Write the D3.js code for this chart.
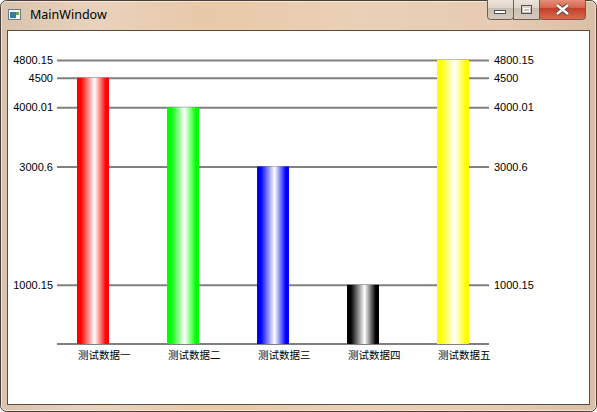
<!DOCTYPE html>
<html><head><meta charset="utf-8">
<script src="https://cdn.jsdelivr.net/npm/d3@7"></script>
<style>html,body{margin:0;padding:0;background:#fff;overflow:hidden}svg{display:block}</style>
</head><body>
<svg id="c" width="597" height="412"></svg>
<script>
const categories = ['测试数据一','测试数据二','测试数据三','测试数据四','测试数据五'];
const values = [4500, 4000.01, 3000.6, 1000.15, 4800.15];
const barColors = ['#ff0000','#00ff00','#0000ff','#000000','#ffff00'];
const tickValues = [4800.15, 4500, 4000.01, 3000.6, 1000.15];
const tickLabels = ['4800.15','4500','4000.01','3000.6','1000.15'];

const svg = d3.select('#c');
const W = 597, H = 412;
const defs = svg.append('defs');

// ---- window chrome ----
const fg = defs.append('linearGradient').attr('id','frame').attr('x1',0).attr('y1',0).attr('x2',1).attr('y2',0);
[['0%','#d9c3ae'],['15%','#e9d2bd'],['35%','#e8c9a8'],['60%','#ead0b6'],['85%','#e6cbb2'],['100%','#d8bfa6']]
  .forEach(([o,c])=>fg.append('stop').attr('offset',o).attr('stop-color',c));
svg.append('rect').attr('x',0.5).attr('y',0.5).attr('width',W-1).attr('height',H-1).attr('rx',6)
  .attr('fill','url(#frame)').attr('stroke','#4a4038').attr('stroke-width',1);
svg.append('rect').attr('x',1.5).attr('y',1.5).attr('width',W-3).attr('height',H-3).attr('rx',5)
  .attr('fill','none').attr('stroke','rgba(255,255,255,0.55)').attr('stroke-width',1);
// client area
svg.append('rect').attr('x',7.5).attr('y',30.5).attr('width',582).attr('height',374)
  .attr('fill','#ffffff').attr('stroke','#5b4c40').attr('stroke-width',1);

// title icon
const ic = svg.append('g');
ic.append('rect').attr('x',8.5).attr('y',9.5).attr('width',12).attr('height',10).attr('fill','#f4f4f4').attr('stroke','#6d7a86');
ic.append('rect').attr('x',10).attr('y',12).attr('width',6).attr('height',6).attr('fill','#3b7a9a');
ic.append('rect').attr('x',16).attr('y',12).attr('width',3).attr('height',3).attr('fill','#6aa84f');
svg.append('text').attr('x',30).attr('y',19).attr('font-family','"Noto Sans","DejaVu Sans",sans-serif')
  .attr('font-size',12.5).attr('fill','#000').text('MainWindow');

// caption buttons
const bg = defs.append('linearGradient').attr('id','btn').attr('x1',0).attr('y1',0).attr('x2',0).attr('y2',1);
[['0%','#f2ebe4'],['50%','#ddd2c7'],['51%','#cbbfb3'],['100%','#d6cabe']].forEach(([o,c])=>bg.append('stop').attr('offset',o).attr('stop-color',c));
const cg = defs.append('linearGradient').attr('id','cls').attr('x1',0).attr('y1',0).attr('x2',0).attr('y2',1);
[['0%','#e9a08c'],['50%','#d4624a'],['51%','#c3402a'],['100%','#d86d4e']].forEach(([o,c])=>cg.append('stop').attr('offset',o).attr('stop-color',c));
svg.append('rect').attr('x',487.5).attr('y',-3).attr('width',26).attr('height',22.5).attr('rx',3).attr('fill','url(#btn)').attr('stroke','#6b5e53');
svg.append('rect').attr('x',513.5).attr('y',-3).attr('width',26).attr('height',22.5).attr('rx',0).attr('fill','url(#btn)').attr('stroke','#6b5e53');
svg.append('rect').attr('x',539.5).attr('y',-3).attr('width',46).attr('height',22.5).attr('rx',3).attr('fill','url(#cls)').attr('stroke','#6b5e53');
svg.append('rect').attr('x',494.5).attr('y',10.5).attr('width',11).attr('height',3).attr('fill','#fff').attr('stroke','#4a5260');
svg.append('rect').attr('x',521.5).attr('y',5.5).attr('width',10).attr('height',8).attr('fill','none').attr('stroke','#4a5260');
svg.append('rect').attr('x',523.5).attr('y',8.5).attr('width',6).attr('height',3).attr('fill','none').attr('stroke','#fff');
svg.append('path').attr('d','M557,5 L568,14 M568,5 L557,14').attr('stroke','#5a4a44').attr('stroke-width',4.2);
svg.append('path').attr('d','M557,5 L568,14 M568,5 L557,14').attr('stroke','#ffffff').attr('stroke-width',2.4);

// ---- chart ----
const x0 = 57, x1 = 489, yTop = 60, yBase = 344;
const y = d3.scaleLinear().domain([0, d3.max(tickValues)]).range([yBase, yTop]);
const x = d3.scalePoint().domain(categories).range([x0 + 36, x1 - 36]);
const bw = 32;

// gradients
barColors.forEach((c,i)=>{
  const g = defs.append('linearGradient').attr('id','g'+i).attr('x1',0).attr('y1',0).attr('x2',1).attr('y2',0);
  g.append('stop').attr('offset','0%').attr('stop-color',c);
  g.append('stop').attr('offset','12%').attr('stop-color',c);
  g.append('stop').attr('offset','55%').attr('stop-color','#ffffff');
  g.append('stop').attr('offset','90%').attr('stop-color',c);
  g.append('stop').attr('offset','100%').attr('stop-color',c);
});

const font = '"Liberation Sans",Arial,sans-serif';
// left axis (labels) + gridlines
const gl = svg.append('g').attr('transform',`translate(${x0},0)`)
  .call(d3.axisLeft(y).tickValues(tickValues).tickFormat((d,i)=>tickLabels[i]).tickSize(-(x1-x0)).tickPadding(4));
gl.select('.domain').remove();
gl.selectAll('.tick line').attr('stroke','#808080').attr('stroke-width',2);
gl.selectAll('.tick text').attr('font-family',font).attr('font-size',11).attr('fill','#000');
const gr = svg.append('g').attr('transform',`translate(${x1},0)`)
  .call(d3.axisRight(y).tickValues(tickValues).tickFormat((d,i)=>tickLabels[i]).tickSize(0).tickPadding(5));
gr.select('.domain').remove();
gr.selectAll('.tick text').attr('font-family',font).attr('font-size',11).attr('fill','#000');

// baseline
svg.append('line').attr('x1',x0).attr('x2',x1).attr('y1',y(0)).attr('y2',y(0)).attr('stroke','#808080').attr('stroke-width',2);

// bars
svg.append('g').selectAll('rect').data(values).join('rect')
  .attr('x',(d,i)=>x(categories[i]) - bw/2)
  .attr('y',d=>y(d))
  .attr('width',bw)
  .attr('height',d=>y(0)-y(d))
  .attr('fill',(d,i)=>`url(#g${i})`);

// category labels
svg.append('g').selectAll('text').data(categories).join('text')
  .attr('x',d=>x(d) - bw/2 + 1)
  .attr('y',y(0)+15)
  .attr('font-family','"Noto Sans CJK SC",sans-serif').attr('font-size',10.5).attr('fill','#000')
  .text(d=>d);
</script>
</body></html>
